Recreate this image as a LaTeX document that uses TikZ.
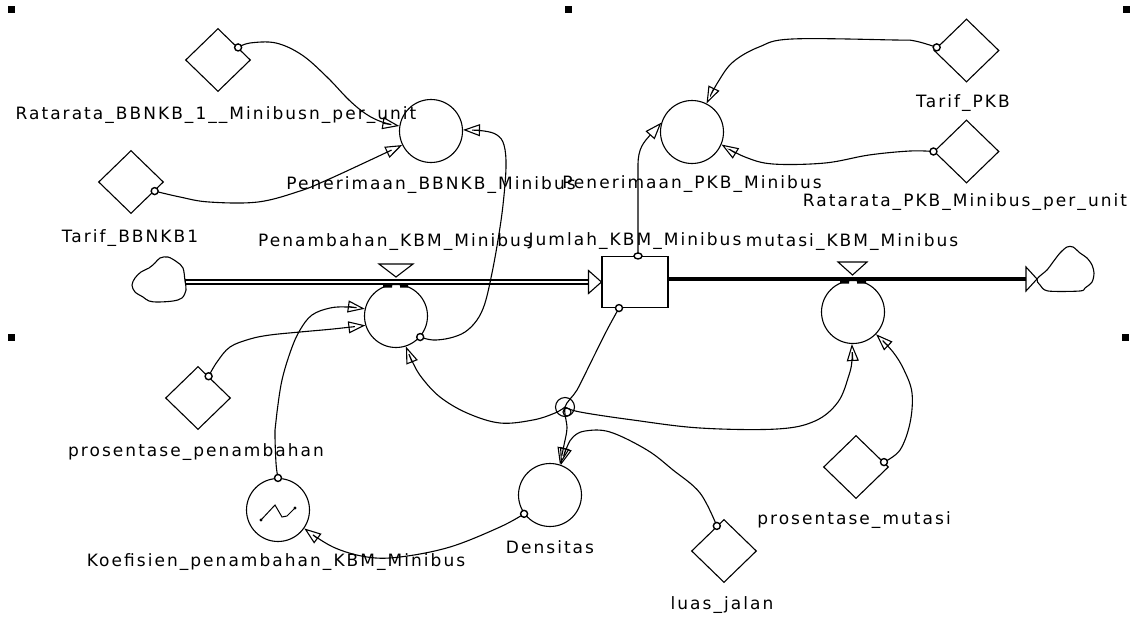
\documentclass[tikz,border=0pt]{standalone}
\usepackage{fontspec}
\newfontfamily\lblfont[LetterSpace=12]{DejaVu Sans}
\usetikzlibrary{shapes.geometric, arrows.meta}

\begin{document}
\begin{tikzpicture}[x=1pt, y=-1pt, line width=1.1pt,
  aux/.style={circle, draw, minimum size=63pt, inner sep=0pt},
  konst/.style={diamond, draw, minimum width=65pt, minimum height=63pt, inner sep=0pt},
  stockbox/.style={rectangle, draw, minimum width=66pt, minimum height=51pt, inner sep=0pt},
  lab/.style={font=\lblfont\fontsize{17}{19}\selectfont, inner sep=0pt, text height=12.2pt, text depth=0pt},
  link/.style={-{Triangle[open, length=17pt, width=12pt]}},
  srcdot/.style={circle, draw, fill=white, minimum size=7pt, inner sep=0pt, line width=1.4pt},
  hubring/.style={circle, draw, inner sep=0pt},
  handlebox/.style={fill=black},
  valve/.style={draw, fill=white, line join=miter},
  pipehead/.style={draw, fill=white, line join=miter},
]
\useasboundingbox (0,0) rectangle (1137,616);
\fill[white] (0,0) rectangle (1137,616);

% selection handles
\fill[handlebox] (8,6) rectangle (15,13);
\fill[handlebox] (565,6) rectangle (572,13);
\fill[handlebox] (1123,6) rectangle (1130,13);
\fill[handlebox] (8,334) rectangle (15,341);
\fill[handlebox] (1122,334) rectangle (1129,341);

% ---------- variables ----------
\node[konst] (rbbnkb) at (218,60) {};
\node[konst] (tbbnkb) at (131,182) {};
\node[aux]   (pbbnkb) at (431,131) {};
\node[aux]   (ppkb)   at (692,132) {};
\node[konst] (tpkb)   at (966.5,50.5) {};
\node[konst] (rpkb)   at (966.5,151.5) {};
\node[stockbox] (jumlah) at (635,282) {};
\node[aux]   (tambah) at (396,316) {};
\node[aux]   (mutasi) at (853,312) {};
\node[konst] (pp)     at (198,398) {};
\node[aux]   (koef)   at (278,510) {};
\node[aux]   (dens)   at (550,495) {};
\node[konst] (lj)     at (724,551) {};
\node[konst] (pm)     at (856,467) {};
\node[hubring, minimum size=19pt] (hub) at (565,407) {};
\node[hubring, minimum size=8pt] (hubin) at (567,412) {};

% lookup symbol inside the graphical function
\draw[line width=1pt] (261,520) -- (275,505) -- (282,517) -- (287,516) -- (295,508);
\fill (261,520) circle (1.6pt) (295,508) circle (1.6pt);

% ---------- labels ----------
\node[lab] (l1)  at (216,113) {Ratarata\_BBNKB\_1\_\_Minibusn\_per\_unit};
\node[lab] (l2)  at (130,236) {Tarif\_BBNKB1};
\node[lab] (l3)  at (431,183) {Penerimaan\_BBNKB\_Minibus};
\node[lab] (l4)  at (692,182) {Penerimaan\_PKB\_Minibus};
\node[lab] (l5)  at (963,101) {Tarif\_PKB};
\node[lab] (l6)  at (965,200) {Ratarata\_PKB\_Minibus\_per\_unit};
\node[lab] (l7)  at (395,240) {Penambahan\_KBM\_Minibus};
\node[lab] (l8)  at (635,239) {Jumlah\_KBM\_Minibus};
\node[lab] (l9)  at (852,240) {mutasi\_KBM\_Minibus};
\node[lab] (l10) at (196,450) {prosentase\_penambahan};
\node[lab] (l11) at (276,560) {Koefisien\_penambahan\_KBM\_Minibus};
\node[lab] (l12) at (550,547) {Densitas};
\node[lab] (l13) at (722,603) {luas\_jalan};
\node[lab] (l14) at (854,518) {prosentase\_mutasi};

% ---------- stock and flow pipes ----------
\coordinate (cloudL) at (185,282);
\coordinate (inEnd) at ([xshift=-13pt]jumlah.west);
\coordinate (outStart) at ([yshift=3pt]jumlah.east);
\coordinate (outEnd) at (1026,279);
\coordinate (cloudR) at (1037,279);

\draw plot[smooth cycle, tension=0.55] coordinates {(185,281) (183,268) (177,262) (168,257) (160,258) (155,263) (149,268) (141,272) (135,278) (132,285) (135,292) (143,297) (149,301) (158,302) (173,301) (182,298) (186,290)};
\draw plot[smooth cycle, tension=0.5] coordinates {(cloudR) (1047,270) (1053,262) (1060,253) (1067,247) (1073,247) (1080,253) (1087,258) (1092,265) (1094,273) (1092,282) (1085,288) (1080,291) (1048,291) (1040,285)};

\draw[line width=5.5pt] (cloudL) -- (inEnd);
\draw[white, line width=2.2pt, shorten <=1pt] (cloudL) -- (inEnd);
\draw[pipehead] ([yshift=11.5pt]inEnd) -- (jumlah.west) -- ([yshift=-11.5pt]inEnd) -- cycle;

\draw[line width=3.8pt] (outStart) -- (outEnd);
\draw[pipehead] ([yshift=12pt]outEnd) -- (cloudR) -- ([yshift=-12pt]outEnd) -- cycle;

% valves
\draw[valve] (379,264) -- (413,264) -- (396,277) -- cycle;
\draw[valve] (838,262) -- (867,262) -- (852.5,275) -- cycle;
\fill (383,284) rectangle (392,287.5) (400,284) rectangle (408,287.5);
\fill (840,280) rectangle (849,283.5) (857,280) rectangle (866,283.5);

% ---------- connectors ----------
\draw[link] plot[smooth, tension=0.6] coordinates {(rbbnkb.32) (250,43) (276,43) (302,55) (327,77) (349,100) (366,114) (382,122) (pbbnkb.171)};
\draw[link] plot[smooth, tension=0.6] coordinates {(tbbnkb.-21) (180,197) (209,202) (258,202) (300,191) (327,180) (364,163) (pbbnkb.206)};
\draw[link] plot[smooth, tension=0.6] coordinates {(tpkb.174) (915,41) (895,40) (792,39) (759,47) (733,62) (718,82) (ppkb.63)};
\draw[link] plot[smooth, tension=0.6] coordinates {(rpkb.west) (910,151) (869,155) (825,163) (773,164) (745,157) (ppkb.-23)};
\coordinate (jtop) at ([xshift=3pt]jumlah.north);
\draw[link] (jtop) -- (638,165) .. controls (638,148) and (644,142) .. (ppkb.163);
\draw[link] plot[smooth, tension=0.6] coordinates {(tambah.-41) (433,340) (450,338) (465,332) (477,320) (485,303) (492,273) (498,240) (503,205) (506,167) (504,145) (497,135) (484,131) (pbbnkb.2)};
\draw[link] plot[smooth, tension=0.6] coordinates {(koef.north) (276,463) (275,430) (277,412) (282,380) (291,350) (300,330) (312,315) (330,308) (347,307) (tambah.167)};
\draw[link] plot[smooth, tension=0.6] coordinates {(pp.64) (217,362) (230,347) (250,339) (270,335) (300,332) (333,329) (tambah.197)};
\draw[link] plot[smooth, tension=0.6] coordinates {(hub.center) (555,413) (533,420) (500,423) (467,413) (440,397) (422,378) (413,363) (tambah.-72)};
\draw[link] plot[smooth, tension=0.6] coordinates {(hub.center) (580,412) (633,420) (700,428) (777,429) (815,421) (838,402) (849,375) (852,360) (mutasi.-92)};
\coordinate (jbot) at ([xshift=-16pt]jumlah.south);
\draw[link] plot[smooth, tension=0.5] coordinates {(jbot) (607,330) (592,360) (577,390) (hub.center) (567,428) (564,445) (dens.72)};
\draw[link] plot[smooth, tension=0.6] coordinates {(lj.106) (700,493) (673,470) (647,450) (610,432) (585,431) (573,437) (567,447) (dens.70)};
\draw[link] plot[smooth, tension=0.6] coordinates {(dens.216) (500,527) (450,547) (400,557) (367,557) (333,547) (koef.-35)};
\draw[link] plot[smooth, tension=0.6] coordinates {(pm.10) (900,450) (910,423) (912,393) (904,370) (893,352) (mutasi.-44)};

% connector source dots
\node[srcdot] (d1)  at (rbbnkb.32) {};
\node[srcdot] (d2)  at (tbbnkb.-21) {};
\node[srcdot] (d3)  at (tpkb.174) {};
\node[srcdot] (d4)  at (rpkb.west) {};
\node[srcdot, minimum width=8pt, minimum height=6pt, ellipse] (d5) at (jtop) {};
\node[srcdot] (d6)  at (tambah.-41) {};
\node[srcdot] (d7)  at (koef.north) {};
\node[srcdot] (d8)  at (pp.64) {};
\node[srcdot] (d9)  at (jbot) {};
\node[srcdot] (d10) at (lj.106) {};
\node[srcdot] (d11) at (dens.216) {};
\node[srcdot] (d12) at (pm.10) {};
\end{tikzpicture}
\end{document}
